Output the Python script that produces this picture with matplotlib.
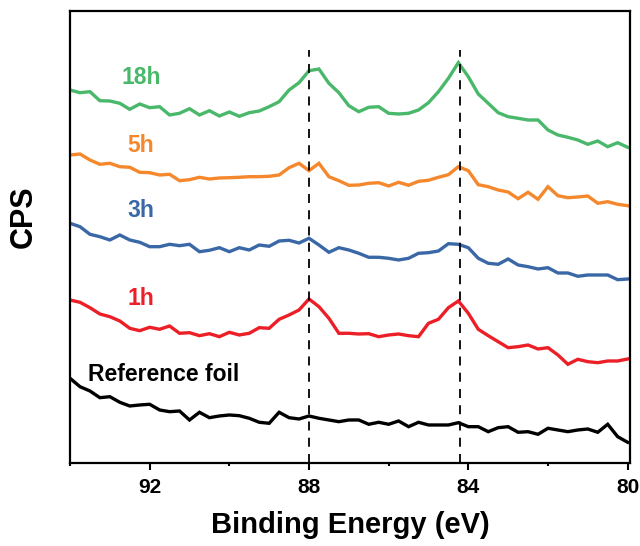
import numpy as np
import matplotlib
matplotlib.use("Agg")
import matplotlib.pyplot as plt

plt.rcParams['font.family'] = ['Liberation Sans', 'DejaVu Sans']
plt.rcParams['font.weight'] = 'bold'

# binding energy grid (eV), 0.25 eV steps from 94 down to 80
energy = np.linspace(94, 80, 57)

# intensities (arbitrary CPS units, offset stack)
cps_18h = [372.7, 370.0, 371.0, 362.0, 361.7, 359.4, 353.4, 358.7, 355.0, 356.0,
           347.7, 349.4, 354.0, 347.7, 352.0, 346.7, 350.7, 346.4, 350.0, 351.7,
           356.0, 361.0, 372.7, 380.0, 392.0, 393.7, 379.4, 370.0, 357.0, 351.0,
           355.4, 356.0, 349.4, 348.7, 349.4, 352.7, 360.0, 371.0, 384.4, 400.0,
           386.0, 368.7, 359.4, 350.0, 346.0, 344.4, 342.7, 342.7, 332.7, 327.7,
           325.4, 322.7, 318.4, 321.7, 316.0, 320.0, 315.4]
cps_5h = [307.7, 308.7, 302.7, 298.4, 299.4, 296.0, 295.4, 290.4, 290.0, 287.7,
          288.4, 282.0, 283.0, 285.4, 283.7, 284.7, 285.0, 285.4, 286.0, 286.0,
          286.4, 287.7, 295.0, 299.4, 292.0, 299.4, 286.0, 282.0, 277.4, 277.7,
          279.4, 280.0, 276.7, 280.4, 277.4, 281.4, 282.4, 285.4, 288.0, 296.0,
          292.0, 278.0, 276.0, 272.7, 270.7, 264.0, 270.4, 263.4, 276.0, 267.0,
          265.0, 265.7, 266.7, 259.4, 261.0, 258.4, 257.0]
cps_3h = [239.4, 236.0, 228.4, 226.0, 222.7, 227.7, 222.7, 220.4, 216.0, 216.0,
          218.4, 217.0, 218.4, 211.0, 212.4, 215.0, 211.0, 215.0, 212.7, 217.7,
          216.4, 221.7, 222.4, 219.7, 224.4, 217.7, 210.4, 215.0, 212.7, 209.4,
          205.4, 205.4, 204.4, 202.7, 204.4, 209.4, 210.0, 211.7, 219.0, 218.4,
          215.0, 204.4, 199.4, 198.4, 203.7, 197.7, 196.0, 193.7, 195.0, 189.7,
          189.7, 186.4, 187.7, 187.7, 187.7, 183.0, 183.7]
cps_1h = [162.7, 160.4, 155.0, 148.7, 146.0, 141.7, 134.4, 132.0, 135.4, 133.4,
          136.7, 129.4, 130.0, 127.0, 129.0, 126.0, 130.4, 127.7, 129.4, 135.0,
          134.4, 143.4, 147.7, 152.7, 163.7, 156.0, 144.4, 129.4, 129.4, 128.7,
          129.0, 126.0, 127.7, 128.7, 127.0, 126.0, 139.4, 143.4, 155.0, 161.7,
          149.4, 133.4, 127.0, 121.0, 115.0, 116.0, 117.7, 113.7, 115.0, 107.7,
          98.4, 103.4, 101.0, 100.0, 101.7, 101.7, 103.7]
cps_ref = [84.4, 76.0, 71.7, 65.0, 66.0, 60.4, 56.7, 57.7, 58.4, 52.7,
           51.0, 51.7, 42.7, 50.4, 45.0, 46.7, 47.7, 47.0, 44.4, 40.4,
           39.4, 50.4, 45.0, 43.7, 46.7, 44.4, 42.7, 41.0, 42.7, 42.7,
           38.4, 40.4, 38.4, 41.7, 36.0, 40.4, 37.7, 37.7, 37.7, 40.0,
           36.0, 36.0, 31.0, 35.0, 36.0, 30.4, 31.0, 28.4, 34.4, 32.7,
           31.0, 32.7, 33.7, 30.4, 38.4, 26.0, 20.4]

series = [
    ("18h", cps_18h, "#4ab86a"),
    ("5h", cps_5h, "#f5882c"),
    ("3h", cps_3h, "#3a68a6"),
    ("1h", cps_1h, "#ec1f27"),
    ("Reference foil", cps_ref, "black"),
]

# label anchors (energy, cps baseline)
label_pos = {
    "18h": (92.22, 378.7),
    "5h": (92.23, 310.7),
    "3h": (92.23, 246.0),
    "1h": (92.23, 157.7),
    "Reference foil": (93.54, 81.7),
}

peak_lines = [88.0, 84.2]

fig = plt.figure(figsize=(6.4, 5.46), dpi=100)
ax = fig.add_axes([0.1094, 0.1526, 0.875, 0.8267])

for name, vals, col in series:
    ax.plot(energy, vals, color=col, lw=2.4, solid_joinstyle='miter')
    lx, ly = label_pos[name]
    ha = 'left' if name == "Reference foil" else 'center'
    ax.text(lx, ly, name, color=col, fontsize=16.5, fontweight='bold',
            ha=ha, va='baseline')

for e in peak_lines:
    ax.plot([e, e], [0, 412.7], color='black', lw=1.3, ls=(0, (5, 4)))

ax.set_xlim(94, 79.94)
ax.set_ylim(0, 451.4)
ax.set_xticks([92, 88, 84, 80])
ax.set_xticks([94, 90, 86, 82], minor=True)
ax.set_yticks([])
ax.tick_params(axis='x', which='major', direction='out', length=5, width=1.5,
               labelsize=15, pad=6)
ax.tick_params(axis='x', which='minor', direction='out', length=2.5, width=1.5)
for lab in ax.get_xticklabels():
    lab.set_fontweight('bold')
for sp in ax.spines.values():
    sp.set_linewidth(1.6)

fig.text(0.547, 0.038, "Binding Energy (eV)", fontsize=21, fontweight='bold',
         ha='center', va='center')
fig.text(0.037, 0.604, "CPS", fontsize=22, fontweight='bold', rotation=90,
         ha='center', va='center')

fig.savefig("out.png", dpi=100)
